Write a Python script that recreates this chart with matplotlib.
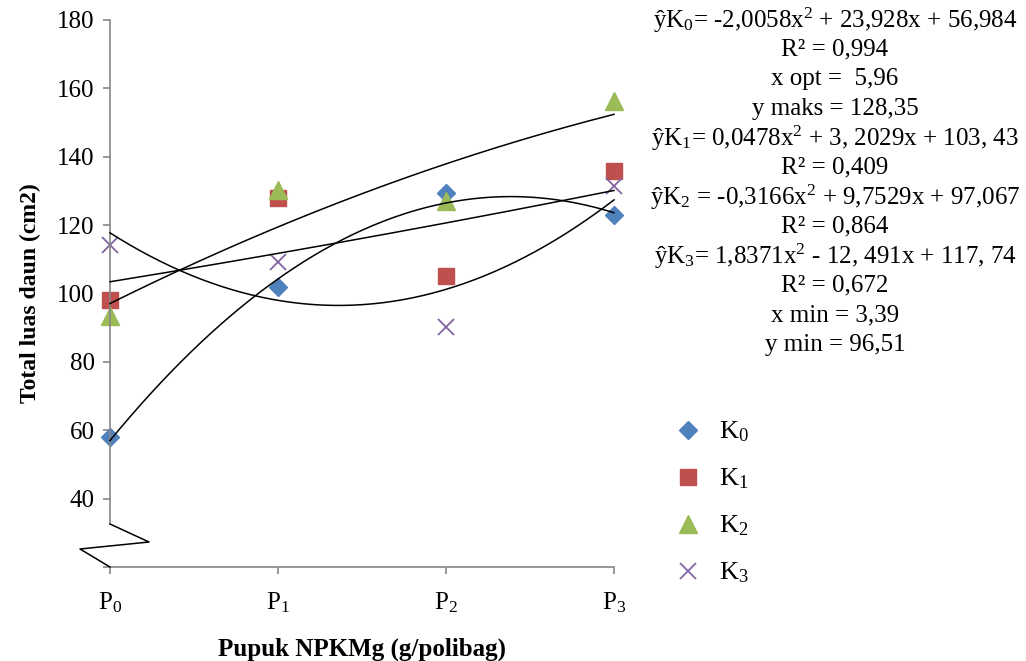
import numpy as np
import matplotlib
matplotlib.use('Agg')
import matplotlib.pyplot as plt

# data
dose = [0, 2.5, 5, 7.5]
tick_labels = ['P$_0$', 'P$_1$', 'P$_2$', 'P$_3$']
series_names = ['K$_0$', 'K$_1$', 'K$_2$', 'K$_3$']
k0 = [58, 102, 129.5, 123]
k1 = [98, 128, 105, 135.7]
k2 = [93.3, 130.4, 127, 156.2]
k3 = [114.3, 109.2, 90.2, 131.4]
# quadratic trendline coefficients (a, b, c) for y = a x^2 + b x + c
coef_k0 = [-2.0058, 23.928, 56.984]
coef_k1 = [0.0478, 3.2029, 103.43]
coef_k2 = [-0.3166, 9.7529, 97.067]
coef_k3 = [1.8371, -12.491, 117.74]

equation_lines = [
    'ŷK$_0$= -2,0058x$^2$ + 23,928x + 56,984',
    'R² = 0,994',
    'x opt =  5,96',
    'y maks = 128,35',
    'ŷK$_1$= 0,0478x$^2$ + 3, 2029x + 103, 43',
    'R² = 0,409',
    'ŷK$_2$ = -0,3166x$^2$ + 9,7529x + 97,067',
    'R² = 0,864',
    'ŷK$_3$= 1,8371x$^2$ - 12, 491x + 117, 74',
    'R² = 0,672',
    'x min = 3,39',
    'y min = 96,51',
]

plt.rcParams['font.family'] = ['Liberation Serif', 'DejaVu Serif']
plt.rcParams['mathtext.fontset'] = 'custom'
plt.rcParams['mathtext.rm'] = 'Liberation Serif'
plt.rcParams['mathtext.it'] = 'Liberation Serif:italic'
plt.rcParams['mathtext.default'] = 'regular'

fig = plt.figure(figsize=(10.26, 6.61), dpi=100)
ax = fig.add_axes([110 / 1026, 94 / 661, 504 / 1026, 547 / 661])

styles = [
    dict(marker='D', color='#4F81BD', ms=9.5),
    dict(marker='s', color='#C0504D', ms=11.5),
    dict(marker='^', color='#9BBB59', ms=13),
    dict(marker='x', color='#8064A2', ms=11, mew=1.3),
]
all_y = [k0, k1, k2, k3]
all_coef = [coef_k0, coef_k1, coef_k2, coef_k3]

xs = np.linspace(dose[0], dose[-1], 200)
for y, coef, name, st in zip(all_y, all_coef, series_names, styles):
    ax.plot(dose, y, linestyle='none', label=name, zorder=2, clip_on=False, **st)
    ax.plot(xs, np.polyval(coef, xs), color='black', lw=1.1, zorder=3, clip_on=False)

ax.set_xlim(dose[0], dose[-1])
ax.set_ylim(20, 180)
ax.set_xticks(dose)
ax.set_xticklabels(tick_labels)
ax.set_yticks(range(20, 181, 20))
ax.set_yticklabels([''] + [str(v) for v in range(40, 181, 20)])
ax.tick_params(axis='both', labelsize=18, color='#868686', length=5, width=1.2, pad=6)
ax.tick_params(axis='x', pad=12)

for side in ['top', 'right']:
    ax.spines[side].set_visible(False)
for side in ['left', 'bottom']:
    ax.spines[side].set_color('#868686')
    ax.spines[side].set_linewidth(1.2)
ax.spines['left'].set_bounds(32.7, 180)

# axis break zigzag
ax.plot([0, 0.0774, -0.0595, 0], [0.0786, 0.0457, 0.0329, 0], color='black', lw=1.1,
        transform=ax.transAxes, clip_on=False, zorder=4)

ax.set_ylabel('Total luas daun (cm2)', fontsize=17, fontweight='bold', labelpad=12)
ax.set_xlabel('Pupuk NPKMg (g/polibag)', fontsize=18, fontweight='bold', labelpad=16)

# equations
for i, line in enumerate(equation_lines):
    fig.text(835 / 1026, 1 - (20 + i * 29.5) / 661, line, fontsize=18,
             ha='center', va='center')

leg = ax.legend(loc='upper left', bbox_to_anchor=(644 / 1026, 1 - 396 / 661),
                bbox_transform=fig.transFigure, frameon=False, fontsize=19,
                labelspacing=0.85, handletextpad=0.45, handlelength=1.5)

fig.savefig('out.png', dpi=100)
